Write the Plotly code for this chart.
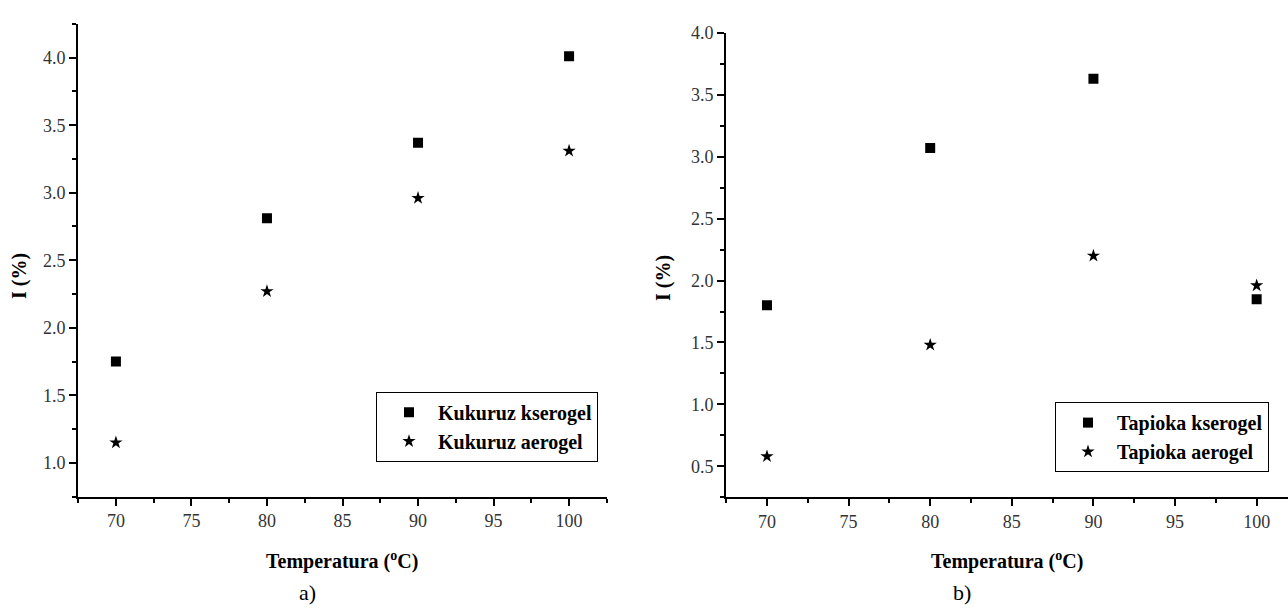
import plotly.graph_objects as go

# Data
temps = [70, 80, 90, 100]
kukuruz_kserogel = [1.75, 2.81, 3.37, 4.01]
kukuruz_aerogel = [1.15, 2.27, 2.96, 3.31]
tapioka_kserogel = [1.80, 3.07, 3.63, 1.85]
tapioka_aerogel = [0.58, 1.48, 2.20, 1.96]

W, H = 1288, 609
SERIF = "Liberation Serif"

def px_x(p):
    return p / W

def px_y(p):
    return 1 - p / H

fig = go.Figure()

fig.add_trace(go.Scatter(x=temps, y=kukuruz_kserogel, mode="markers", name="Kukuruz kserogel",
                         marker=dict(symbol="square", size=10, color="black"),
                         xaxis="x", yaxis="y", legend="legend", legendgroup="a1"))
fig.add_trace(go.Scatter(x=temps, y=kukuruz_aerogel, mode="markers", name="Kukuruz aerogel",
                         marker=dict(symbol="star", size=10, color="black"),
                         xaxis="x", yaxis="y", legend="legend", legendgroup="a2"))
fig.add_trace(go.Scatter(x=temps, y=tapioka_kserogel, mode="markers", name="Tapioka kserogel",
                         marker=dict(symbol="square", size=10, color="black"),
                         xaxis="x2", yaxis="y2", legend="legend2", legendgroup="b1"))
fig.add_trace(go.Scatter(x=temps, y=tapioka_aerogel, mode="markers", name="Tapioka aerogel",
                         marker=dict(symbol="star", size=10, color="black"),
                         xaxis="x2", yaxis="y2", legend="legend2", legendgroup="b2"))

tickfont = dict(family=SERIF, size=18, color="#333333")

def xaxis_cfg(domain, anchor, rng):
    return dict(domain=domain, anchor=anchor, range=rng, showline=True, linecolor="black", linewidth=2,
                ticks="outside", ticklen=7, tickwidth=2, tickcolor="black", dtick=5, tick0=0,
                showgrid=False, zeroline=False, tickfont=tickfont,
                minor=dict(ticks="outside", ticklen=4, tickwidth=2, tickcolor="black", dtick=2.5, showgrid=False))

def yaxis_cfg(domain, anchor, rng):
    return dict(domain=domain, anchor=anchor, range=rng, showline=True, linecolor="black", linewidth=2,
                ticks="outside", ticklen=7, tickwidth=2, tickcolor="black", dtick=0.5, tick0=0,
                tickformat=".1f", showgrid=False, zeroline=False, tickfont=tickfont,
                minor=dict(ticks="outside", ticklen=4, tickwidth=2, tickcolor="black", dtick=0.25, showgrid=False))

legfont = dict(family=SERIF, size=20, color="black", weight="bold")

fig.update_layout(
    width=W, height=H,
    margin=dict(l=0, r=0, t=0, b=0),
    paper_bgcolor="white", plot_bgcolor="white",
    showlegend=True,
    xaxis=xaxis_cfg([px_x(78), px_x(607)], "y", [67.49, 102.51]),
    yaxis=yaxis_cfg([px_y(495), px_y(15)], "x", [0.749, 4.251]),
    xaxis2=xaxis_cfg([px_x(726), 1.0], "y2", [67.49, 101.92]),
    yaxis2=yaxis_cfg([px_y(495.7), px_y(24)], "x2", [0.249, 4.002]),
    legend=dict(x=px_x(376), y=px_y(388.5), xanchor="left", yanchor="top", bgcolor="white",
                bordercolor="black", borderwidth=1, font=legfont, tracegroupgap=0,
                itemwidth=48, indentation=3),
    legend2=dict(x=px_x(1055), y=px_y(399), xanchor="left", yanchor="top", bgcolor="white",
                 bordercolor="black", borderwidth=1, font=legfont, tracegroupgap=0,
                 itemwidth=48, indentation=3),
)

titlefont = dict(family=SERIF, size=20, color="black", weight="bold")
ann = [
    dict(text="Temperatura (<sup>o</sup>C)", x=px_x(341.5), y=px_y(560), font=titlefont),
    dict(text="Temperatura (<sup>o</sup>C)", x=px_x(1007), y=px_y(560), font=titlefont),
    dict(text="I (%)", x=px_x(20), y=px_y(271), textangle=-90, font=titlefont),
    dict(text="I (%)", x=px_x(664), y=px_y(273), textangle=-90, font=titlefont),
    dict(text="a)", x=px_x(307), y=px_y(592), font=dict(family=SERIF, size=22, color="black")),
    dict(text="b)", x=px_x(962), y=px_y(592), font=dict(family=SERIF, size=22, color="black")),
]
for a in ann:
    fig.add_annotation(xref="paper", yref="paper", showarrow=False, xanchor="center", yanchor="middle", **a)

fig.write_html("out.html")
